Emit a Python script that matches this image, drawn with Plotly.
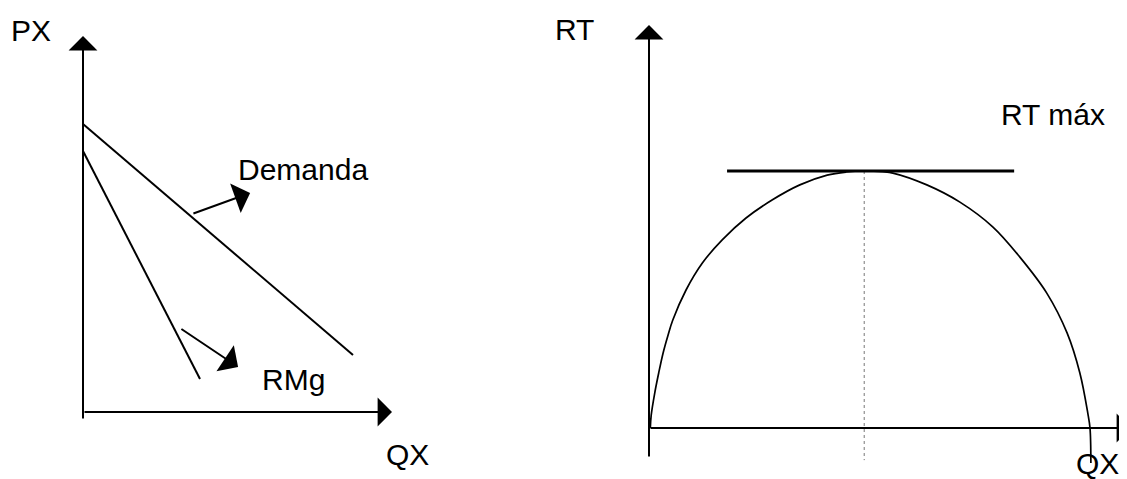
import plotly.graph_objects as go

W, H = 1127, 479
MARGEM_PAGINA = 8  # margem padrão do <body> no html gerado
FONTE = "Liberation Sans, Arial, sans-serif"

# painel esquerdo: demanda e receita marginal (QX, PX)
demanda_q = [0.0, 9.0]
demanda_p = [9.6, 1.9]
rmg_q = [0.0, 3.9]
rmg_p = [8.7, 1.1]

# setas que apontam para os rótulos (cauda -> ponta)
seta_demanda_q = [3.63, 5.57]
seta_demanda_p = [6.6, 7.3]
seta_rmg_q = [3.23, 5.17]
seta_rmg_p = [2.8, 1.5]

# eixos do painel esquerdo (início -> ponta da seta)
eixo_px_q = [0.0, 0.0]
eixo_px_p = [-0.27, 12.53]
eixo_qx_q = [0.0, 10.3]
eixo_qx_p = [0.0, 0.0]

rotulos_esq = ["PX", "Demanda", "RMg", "QX"]
rotulos_esq_q = [-1.73, 7.33, 7.03, 10.8]
rotulos_esq_p = [12.73, 8.07, 1.07, -1.43]

# painel direito: receita total (QX, RT)
rt_q = [0.03, 0.05, 0.13, 0.22, 0.32, 0.43, 0.54, 0.84, 1.21, 1.66, 2.20, 2.79,
        3.42, 4.04, 4.47, 4.88, 5.30, 5.53, 6.30, 7.05, 7.80, 8.41, 9.02, 9.48,
        9.77, 9.95, 10.0, 10.02]
rt_v = [0.0, 5.0, 13.6, 21.4, 29.2, 36.0, 42.0, 53.7, 64.2, 73.2, 81.7, 88.7,
        94.6, 98.4, 99.6, 100.0, 99.7, 99.2, 94.6, 87.9, 78.2, 66.5, 52.5, 37.0,
        21.4, 5.8, 0.0, -13.6]
tangente_q = [1.77, 8.28]
tangente_rt = [100.0, 100.0]
vertical_q = [4.88, 4.88]
vertical_rt = [100.0, -12.5]

eixo_rt_q = [0.0, 0.0]
eixo_rt_v = [-11.7, 156.8]
eixo_qx2_q = [0.0, 10.93]
eixo_qx2_v = [0.0, 0.0]

rotulos_dir = ["RT", "RT máx", "QX"]
rotulos_dir_q = [-1.68, 9.16, 10.18]
rotulos_dir_rt = [154.9, 121.8, -14.0]


def faixa_x(origem_px, px_por_unidade, dominio):
    inicio = dominio[0] * W
    largura = (dominio[1] - dominio[0]) * W
    r0 = -(origem_px - MARGEM_PAGINA - inicio) / px_por_unidade
    return [r0, r0 + largura / px_por_unidade]


def faixa_y(origem_px, px_por_unidade):
    r1 = (origem_px - MARGEM_PAGINA) / px_por_unidade
    return [r1 - H / px_por_unidade, r1]


def linha(x, y, eixos, largura=2, cor="black", traco="solid", forma="linear"):
    return go.Scatter(
        x=x, y=y, mode="lines", xaxis=eixos[0], yaxis=eixos[1],
        line=dict(color=cor, width=largura, dash=traco, shape=forma, smoothing=1.0),
        hoverinfo="skip", showlegend=False,
    )


def seta(xs, ys, eixos, tamanho=2.4):
    return dict(
        x=xs[1], y=ys[1], ax=xs[0], ay=ys[0],
        xref=eixos[0], yref=eixos[1], axref=eixos[0], ayref=eixos[1],
        text="", showarrow=True, arrowhead=1, arrowwidth=2,
        arrowsize=tamanho, arrowcolor="black",
    )


def rotulo(texto, x, y, eixos):
    return dict(
        x=x, y=y, xref=eixos[0], yref=eixos[1], text=texto, showarrow=False,
        xanchor="center", yanchor="middle",
        font=dict(family=FONTE, size=30, color="black"),
    )


esq = ("x", "y")
dir_ = ("x2", "y2")

fig = go.Figure()
fig.add_trace(linha(demanda_q, demanda_p, esq))
fig.add_trace(linha(rmg_q, rmg_p, esq))
fig.add_trace(linha(vertical_q, vertical_rt, dir_, largura=1, cor="#777777", traco="dot"))
fig.add_trace(linha(rt_q, rt_v, dir_, largura=1.7, forma="spline"))
fig.add_trace(linha(tangente_q, tangente_rt, dir_, largura=3))

anotacoes = [
    seta(eixo_px_q, eixo_px_p, esq),
    seta(eixo_qx_q, eixo_qx_p, esq),
    seta(seta_demanda_q, seta_demanda_p, esq, 2.6),
    seta(seta_rmg_q, seta_rmg_p, esq, 2.6),
    seta(eixo_rt_q, eixo_rt_v, dir_),
    seta(eixo_qx2_q, eixo_qx2_v, dir_),
]
anotacoes += [rotulo(t, q, p, esq) for t, q, p in zip(rotulos_esq, rotulos_esq_q, rotulos_esq_p)]
anotacoes += [rotulo(t, q, v, dir_) for t, q, v in zip(rotulos_dir, rotulos_dir_q, rotulos_dir_rt)]

eixo_oculto = dict(visible=False, fixedrange=True)
fig.update_layout(
    width=W, height=H,
    margin=dict(l=0, r=0, t=0, b=0),
    paper_bgcolor="white", plot_bgcolor="white",
    xaxis=dict(domain=[0, 0.5], range=faixa_x(83, 30, [0, 0.5]), anchor="y", **eixo_oculto),
    yaxis=dict(domain=[0, 1], range=faixa_y(412, 30), anchor="x", **eixo_oculto),
    xaxis2=dict(domain=[0.5, 1], range=faixa_x(649, 44.1, [0.5, 1]), anchor="y2", **eixo_oculto),
    yaxis2=dict(domain=[0, 1], range=faixa_y(428, 2.57), anchor="x2", **eixo_oculto),
    annotations=anotacoes,
)

fig.write_html("out.html")
